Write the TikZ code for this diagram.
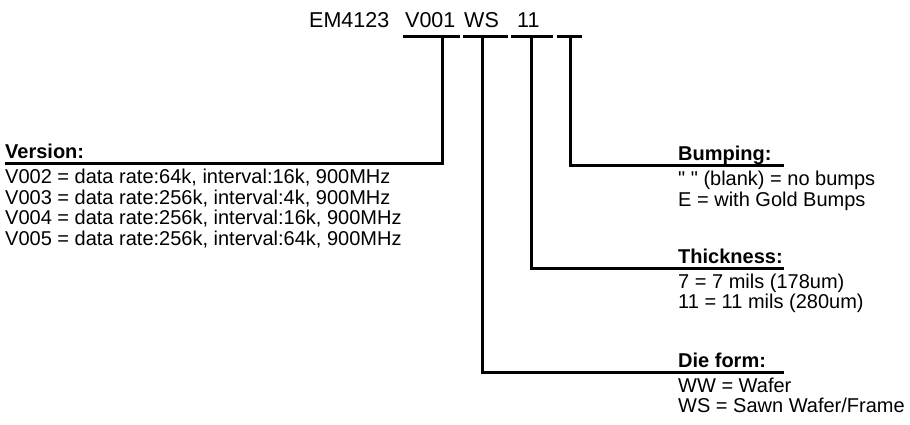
\documentclass[tikz,border=0pt]{standalone}
\usepackage{fontspec}
\setmainfont{Liberation Sans}
\newfontfamily\plainfont{Liberation Sans}[Ligatures=TeXOff]
\usetikzlibrary{positioning}

\tikzset{
  field/.style={font=\fontsize{20}{20}\selectfont, inner sep=0pt, anchor=base west},
  code/.style={font=\fontsize{21.5}{21.5}\selectfont, inner sep=0pt, anchor=base west},
  head/.style={font=\bfseries\fontsize{20}{20}\selectfont, inner sep=0pt, anchor=base west},
  lead/.style={line width=3pt},
}

\begin{document}
\begin{tikzpicture}[x=1pt, y=-1pt]
	\useasboundingbox (0,0) rectangle (910,424);

	% Part number fields
	\node[code] (em)    at (309,27) {EM4123};
	\node[code] (ver)   at (405,27) {V001};
	\node[code] (die)   at (464,27) {WS};
	\node[code] (thick) at (517,27) {11};

	% Underlines of the fields
	\foreach \a/\b in {403/460, 463/508, 511/553, 557/582}{
		\draw[lead] (\a,36) -- (\b,36);
	}

	% Tick points below the fields
	\coordinate (vtick) at (442,36);
	\coordinate (dtick) at (482,36);
	\coordinate (ttick) at (531,36);
	\coordinate (btick) at (570,36);

	% Version
	\node[head] (vhead) at (5,158) {Version:};
	\coordinate (vend) at (5,163);
	\foreach \txt [count=\i] in {{V002 = data rate:64k, interval:16k, 900MHz},
			{V003 = data rate:256k, interval:4k, 900MHz},
			{V004 = data rate:256k, interval:16k, 900MHz},
			{V005 = data rate:256k, interval:64k, 900MHz}}{
		\node[field] (v\i) at (5,163+20.5*\i) {\txt};
	}

	% Bumping
	\node[head] (bhead) at (678,160) {Bumping:};
	\coordinate (bend) at (784,165);
	\node[field] (b1) at (678,185) {{\plainfont"~"} (blank) = no bumps};
	\node[field] (b2) at (678,206) {E = with Gold Bumps};

	% Thickness
	\node[head] (thead) at (678,263) {Thickness:};
	\coordinate (tend) at (784,268);
	\node[field] (t1) at (678,288) {7 = 7 mils (178um)};
	\node[field] (t2) at (678,308) {11 = 11 mils (280um)};

	% Die form
	\node[head] (dhead) at (678,367) {Die form:};
	\coordinate (dend) at (784,372);
	\node[field] (d1) at (678,392) {WW = Wafer};
	\node[field] (d2) at (678,412) {WS = Sawn Wafer/Frame};

	% Leads
	\draw[lead] (vtick) |- (vend);
	\draw[lead] (btick) |- (bend);
	\draw[lead] (ttick) |- (tend);
	\draw[lead] (dtick) |- (dend);
\end{tikzpicture}
\end{document}
